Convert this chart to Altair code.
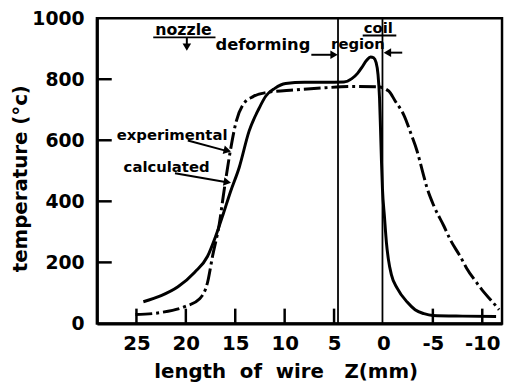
import altair as alt
import pandas as pd

# experimental curve (dash-dot)
exp_z = [25.1, 22.5, 20.1, 18.6, 17.8, 17.3, 16.6, 16.2, 15.5, 14.9,
         14.2, 13.2, 11.9, 9.0, 5.9, 3.0, 0.6, -0.5, -1.2, -2.1,
         -2.8, -3.4, -3.9, -4.4, -5.1, -6.1, -6.8, -7.8, -8.4, -9.4,
         -10.1, -11.0, -11.7]
exp_T = [29, 36, 55, 81, 135, 220, 329, 420, 565, 662,
         717, 743, 756, 765, 772, 776, 775, 762, 728, 680,
         620, 565, 505, 445, 385, 320, 272, 218, 182, 135,
         105, 72, 45]

# calculated curve (solid)
cal_z = [24.3, 22.5, 20.8, 19.1, 17.8, 17.0, 16.2, 15.5, 14.6, 13.6,
         12.6, 11.9, 11.0, 9.9, 8.0, 6.0, 4.0, 3.2, 2.6, 2.2,
         1.7, 1.3, 1.0, 0.75, 0.55, 0.4, 0.3, 0.2, 0.1, -0.1,
         -0.3, -0.5, -0.8, -1.4, -2.4, -3.2, -4.1, -5.0, -8.0, -11.4]
cal_T = [71, 91, 120, 168, 220, 284, 360, 430, 511, 630,
         704, 745, 770, 786, 790, 790, 791, 802, 820, 838,
         862, 873, 870, 855, 815, 740, 640, 530, 440, 350,
         265, 210, 160, 115, 70, 45, 32, 26, 24, 23]

x_labels = [25, 20, 15, 10, 5, 0, -5, -10]
x_ticks = [25, 20, 15, 10, 5, -5, -10]
y_labels = [0, 200, 400, 600, 800, 1000]
y_ticks = [200, 400, 600, 800]
region_lines = [4.6, 0.1]

# annotations
ann_text = ["nozzle", "deforming", "region", "coil", "experimental", "calculated"]
ann_tz = [23.1, 17.0, 5.3, 2.0, 27.0, 26.3]
ann_tT = [945, 896, 900, 951, 602, 495]
ann_fs = [16, 16.5, 15, 15, 15, 15]

seg_z1 = [23.3, 19.9, 2.1, 7.3, -1.9, 19.8, 21.1]
seg_z2 = [17.0, 19.9, -1.3, 5.3, -0.6, 16.0, 16.0]
seg_T1 = [937, 935, 943, 880, 887, 599, 492]
seg_T2 = [937, 912, 943, 880, 887, 566, 463]

head_z = [19.9, 5.0, -0.4, 15.8, 15.8]
head_T = [905, 880, 887, 566, 463]
head_shape = ["triangle-down", "triangle-right", "triangle-left", "triangle-right", "triangle-right"]
head_angle = [0, 0, 0, 14, 10]

W, H = 410, 309
FONT = "DejaVu Sans"

exp_df = pd.DataFrame({"z": exp_z, "T": exp_T})
cal_df = pd.DataFrame({"z": cal_z, "T": cal_T})

xscale = alt.Scale(domain=[-12, 29], reverse=True, nice=False, zero=False)
yscale = alt.Scale(domain=[0, 1000], nice=False)

xaxis = alt.Axis(values=x_labels, ticks=False, tickSize=0, grid=False,
                 labelFont=FONT, labelFontSize=20, labelFontWeight="bold",
                 labelColor="black", labelPadding=10, labelFlush=False,
                 labelOverlap=False,
                 labelExpr="datum.value < 0 ? '-' + (-datum.value) : '' + datum.value",
                 domainColor="black", domainWidth=3,
                 title="length\u00a0 of\u00a0 wire\u00a0\u00a0 Z(mm)",
                 titleFont=FONT, titleFontSize=20, titleFontWeight="bold",
                 titleColor="black", titleX=191, titleY=55,
                 titleBaseline="alphabetic", titleAlign="center")
yaxis = alt.Axis(values=y_labels, ticks=False, tickSize=0, grid=False,
                 format="d",
                 labelFont=FONT, labelFontSize=19, labelFontWeight="bold",
                 labelColor="black", labelPadding=13, labelFlush=False,
                 labelOverlap=False,
                 domainColor="black", domainWidth=3,
                 title="temperature (°c)",
                 titleFont=FONT, titleFontSize=20, titleFontWeight="bold",
                 titleColor="black", titleX=-71, titleY=162, titleAngle=270,
                 titleBaseline="alphabetic", titleAlign="center")

cal_line = alt.Chart(cal_df).mark_line(
    color="black", strokeWidth=3, interpolate="monotone"
).encode(
    x=alt.X("z:Q", scale=xscale, axis=xaxis),
    y=alt.Y("T:Q", scale=yscale, axis=yaxis),
    order=alt.Order("z:Q", sort="descending"),
)

exp_line = alt.Chart(exp_df).mark_line(
    color="black", strokeWidth=3, interpolate="monotone",
    strokeDash=[17, 4, 3, 4]
).encode(
    x=alt.X("z:Q", scale=xscale),
    y=alt.Y("T:Q", scale=yscale),
    order=alt.Order("z:Q", sort="descending"),
)

vlines = alt.Chart(pd.DataFrame({"z": region_lines})).mark_rule(
    color="black", strokeWidth=1.8
).encode(
    x=alt.X("z:Q", scale=xscale),
    y=alt.value(0), y2=alt.value(H),
)

xt = alt.Chart(pd.DataFrame({"z": x_ticks})).mark_rule(
    color="black", strokeWidth=2.5
).encode(
    x=alt.X("z:Q", scale=xscale),
    y=alt.value(H), y2=alt.value(H - 15),
)

yt = alt.Chart(pd.DataFrame({"T": y_ticks})).mark_rule(
    color="black", strokeWidth=2.5
).encode(
    y=alt.Y("T:Q", scale=yscale),
    x=alt.value(0), x2=alt.value(15),
)

ann_df = pd.DataFrame({"t": ann_text, "z": ann_tz, "T": ann_tT, "fs": ann_fs})
texts = alt.Chart(ann_df).mark_text(
    font=FONT, fontWeight="bold", color="black", align="left", baseline="alphabetic"
).encode(
    x=alt.X("z:Q", scale=xscale),
    y=alt.Y("T:Q", scale=yscale),
    text="t:N",
    size=alt.Size("fs:Q", scale=None),
)

seg_df = pd.DataFrame({"z1": seg_z1, "z2": seg_z2, "T1": seg_T1, "T2": seg_T2})
segs = alt.Chart(seg_df).mark_rule(color="black", strokeWidth=2).encode(
    x=alt.X("z1:Q", scale=xscale),
    x2="z2:Q",
    y=alt.Y("T1:Q", scale=yscale),
    y2="T2:Q",
)

head_df = pd.DataFrame({"z": head_z, "T": head_T, "s": head_shape, "a": head_angle})
heads = alt.Chart(head_df).mark_point(
    filled=True, color="black", opacity=1, size=75
).encode(
    x=alt.X("z:Q", scale=xscale),
    y=alt.Y("T:Q", scale=yscale),
    shape=alt.Shape("s:N", scale=None),
    angle=alt.Angle("a:Q", scale=None),
)

chart = alt.layer(
    vlines, xt, yt, cal_line, exp_line, segs, heads, texts
).properties(
    width=W, height=H,
    autosize=alt.AutoSizeParams(type="none"),
    padding={"left": 90, "top": 8, "right": 2, "bottom": 58},
    background="white",
).configure_view(
    stroke="black", strokeWidth=2.5
)

chart.save("out.html", embed_options={"renderer": "svg", "actions": False})
